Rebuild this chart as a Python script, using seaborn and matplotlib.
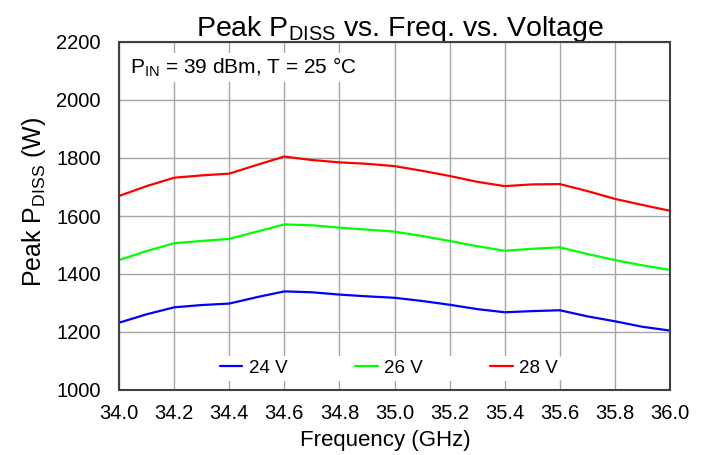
import numpy as np
import pandas as pd
import matplotlib
matplotlib.use("Agg")
import matplotlib.pyplot as plt
import seaborn as sns

# values, 0.1 GHz steps
freq = [34.0, 34.1, 34.2, 34.3, 34.4, 34.5, 34.6, 34.7, 34.8, 34.9, 35.0,
        35.1, 35.2, 35.3, 35.4, 35.5, 35.6, 35.7, 35.8, 35.9, 36.0]
pdiss_24v = [1232, 1261, 1285, 1293, 1298, 1320, 1340, 1337, 1329, 1323, 1318,
             1307, 1294, 1279, 1268, 1272, 1275, 1254, 1237, 1218, 1205]
pdiss_26v = [1448, 1479, 1506, 1514, 1521, 1546, 1571, 1568, 1560, 1553, 1546,
             1531, 1514, 1496, 1480, 1487, 1492, 1469, 1448, 1430, 1414]
pdiss_28v = [1669, 1703, 1732, 1740, 1746, 1776, 1805, 1793, 1785, 1780, 1772,
             1756, 1738, 1718, 1703, 1709, 1710, 1686, 1659, 1638, 1618]
series_names = ['24 V', '26 V', '28 V']
series_colors = ['#0000ff', '#00ff00', '#ff0000']

x_ticks = [34.0, 34.2, 34.4, 34.6, 34.8, 35.0, 35.2, 35.4, 35.6, 35.8, 36.0]
y_ticks = [1000, 1200, 1400, 1600, 1800, 2000, 2200]

df = pd.DataFrame({
    'Frequency': freq * 3,
    'Pdiss': pdiss_24v + pdiss_26v + pdiss_28v,
    'Voltage': [n for n in series_names for _ in freq],
})

sns.set_style('white')
plt.rcParams['font.family'] = ['Liberation Sans', 'DejaVu Sans']
plt.rcParams['mathtext.fontset'] = 'custom'
plt.rcParams['mathtext.rm'] = 'Liberation Sans'
plt.rcParams['mathtext.it'] = 'Liberation Sans'
plt.rcParams['mathtext.default'] = 'rm'
plt.rcParams['text.color'] = 'black'
plt.rcParams['axes.labelcolor'] = 'black'

fig = plt.figure(figsize=(7.08, 4.55), dpi=100)
ax = fig.add_axes([119 / 708, 65 / 455, 551 / 708, 348 / 455])

sns.lineplot(data=df, x='Frequency', y='Pdiss', hue='Voltage',
             palette=dict(zip(series_names, series_colors)),
             linewidth=1.6, ax=ax, legend=True)

ax.set_xlim(34.0, 36.0)
ax.set_ylim(1000, 2200)
ax.set_xticks(x_ticks)
ax.set_xticklabels([f'{v:.1f}' for v in x_ticks])
ax.set_yticks(y_ticks)
ax.grid(True, color='#a6a6a6', linewidth=1.0)
ax.set_axisbelow(True)
for s in ax.spines.values():
    s.set_color('#404040')
    s.set_linewidth(1.5)
    s.set_zorder(6)
ax.tick_params(axis='both', labelsize=14.5, length=0, colors='black')
ax.tick_params(axis='y', pad=13)
ax.tick_params(axis='x', pad=10)

ax.set_xlabel('Frequency (GHz)', fontsize=16, labelpad=5, x=0.483)
ax.set_ylabel('Peak P$_{\\mathrm{DISS}}$ (W)', fontsize=18, labelpad=6, y=0.54)
ax.set_title('Peak P$_{\\mathrm{DISS}}$ vs. Freq. vs. Voltage', fontsize=20.5, pad=4, x=0.51)

ax.text(0.02, 0.96, 'P$_{\\mathrm{IN}}$ = 39 dBm, T = 25 °C', transform=ax.transAxes,
        fontsize=15, va='top', ha='left',
        bbox=dict(facecolor='white', edgecolor='none', pad=2))

leg = ax.legend(loc='lower center', bbox_to_anchor=(0.49, 0.0), ncol=3,
                frameon=True, fontsize=13.5, handlelength=1.2, columnspacing=3.6,
                handletextpad=0.35, borderpad=0.2, title=None)
leg.get_frame().set_facecolor('white')
leg.get_frame().set_edgecolor('none')
leg.get_frame().set_alpha(1)
for line in leg.get_lines():
    line.set_linewidth(1.6)

fig.savefig('out.png', dpi=100)
